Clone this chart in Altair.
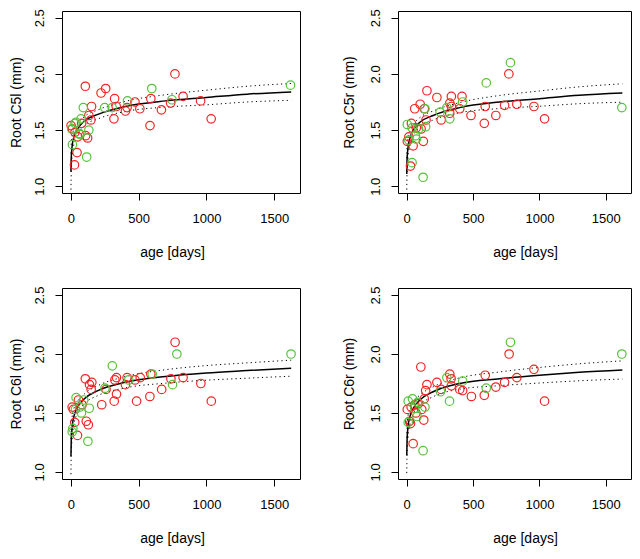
import altair as alt
import pandas as pd

FONT = "Liberation Sans"
RED = "#F22424"
GREEN = "#55C23A"

AGE_TICKS = [0, 500, 1000, 1500]
Y_TICKS = [1.0, 1.5, 2.0, 2.5]
CURVE_AGE = [1, 3, 10, 25, 50, 100, 200, 400, 700, 1000, 1300, 1625]

# ---- Root C5l ----
C5L_RED_AGE = [2, 12, 27, 31, 46, 51, 80, 107, 109, 124, 133, 148, 153, 223, 257, 318, 323, 335, 403, 415, 473, 509, 584, 590, 668, 736, 768, 828, 957, 1035]
C5L_RED_VAL = [1.54, 1.51, 1.19, 1.48, 1.30, 1.44, 1.56, 1.89, 1.45, 1.43, 1.63, 1.59, 1.71, 1.83, 1.87, 1.60, 1.78, 1.71, 1.67, 1.70, 1.75, 1.69, 1.54, 1.78, 1.68, 1.74, 2.00, 1.80, 1.76, 1.60]
C5L_GREEN_AGE = [7, 12, 31, 38, 63, 68, 75, 92, 117, 133, 250, 305, 418, 597, 746, 1620]
C5L_GREEN_VAL = [1.51, 1.37, 1.56, 1.57, 1.47, 1.46, 1.60, 1.70, 1.26, 1.50, 1.70, 1.70, 1.76, 1.87, 1.77, 1.90]
C5L_FIT = [1.13, 1.25, 1.36, 1.45, 1.51, 1.58, 1.64, 1.71, 1.76, 1.79, 1.82, 1.84]
C5L_UP = [1.29, 1.38, 1.45, 1.515, 1.56, 1.62, 1.68, 1.755, 1.815, 1.855, 1.89, 1.915]
C5L_LO = [0.97, 1.12, 1.27, 1.385, 1.46, 1.54, 1.60, 1.665, 1.705, 1.725, 1.75, 1.765]

# ---- Root C5r ----
C5R_RED_AGE = [5, 17, 29, 36, 49, 61, 73, 102, 109, 126, 133, 146, 153, 228, 260, 325, 325, 337, 337, 400, 417, 485, 585, 592, 672, 738, 770, 830, 959, 1039]
C5R_RED_VAL = [1.40, 1.44, 1.18, 1.56, 1.36, 1.69, 1.52, 1.73, 1.51, 1.40, 1.69, 1.59, 1.85, 1.79, 1.59, 1.65, 1.74, 1.80, 1.71, 1.69, 1.80, 1.63, 1.56, 1.71, 1.63, 1.72, 2.00, 1.73, 1.71, 1.60]
C5R_GREEN_AGE = [5, 17, 41, 41, 66, 73, 90, 124, 138, 143, 252, 303, 325, 422, 600, 782, 1621]
C5R_GREEN_VAL = [1.55, 1.41, 1.21, 1.52, 1.45, 1.42, 1.51, 1.08, 1.69, 1.53, 1.66, 1.70, 1.60, 1.75, 1.92, 2.10, 1.70]
C5R_FIT = [1.11, 1.23, 1.34, 1.43, 1.50, 1.57, 1.63, 1.70, 1.75, 1.78, 1.81, 1.83]
C5R_UP = [1.25, 1.35, 1.43, 1.495, 1.55, 1.612, 1.67, 1.745, 1.808, 1.848, 1.885, 1.912]
C5R_LO = [0.97, 1.11, 1.25, 1.365, 1.45, 1.528, 1.59, 1.655, 1.692, 1.712, 1.735, 1.748]

# ---- Root C6l ----
C6L_RED_AGE = [10, 19, 29, 49, 56, 83, 107, 114, 129, 138, 150, 155, 228, 260, 320, 325, 337, 337, 403, 415, 473, 485, 512, 583, 590, 670, 738, 769, 828, 959, 1036]
C6L_RED_VAL = [1.55, 1.53, 1.42, 1.31, 1.61, 1.57, 1.79, 1.43, 1.40, 1.74, 1.70, 1.76, 1.57, 1.70, 1.60, 1.78, 1.66, 1.80, 1.74, 1.80, 1.78, 1.60, 1.80, 1.64, 1.83, 1.70, 1.79, 2.10, 1.80, 1.75, 1.60]
C6L_GREEN_AGE = [10, 15, 34, 39, 66, 78, 95, 126, 136, 252, 306, 427, 600, 750, 782, 1624]
C6L_GREEN_VAL = [1.34, 1.37, 1.53, 1.63, 1.55, 1.50, 1.61, 1.26, 1.54, 1.71, 1.90, 1.78, 1.83, 1.74, 2.00, 2.00]
C6L_FIT = [1.13, 1.26, 1.38, 1.48, 1.55, 1.62, 1.69, 1.76, 1.81, 1.84, 1.86, 1.88]
C6L_UP = [1.28, 1.38, 1.47, 1.545, 1.60, 1.662, 1.732, 1.808, 1.867, 1.902, 1.925, 1.948]
C6L_LO = [0.98, 1.14, 1.29, 1.415, 1.50, 1.578, 1.648, 1.712, 1.753, 1.778, 1.795, 1.812]

# ---- Root C6r ----
C6R_RED_AGE = [5, 22, 29, 34, 49, 61, 70, 90, 107, 114, 129, 133, 143, 153, 228, 260, 325, 335, 337, 400, 422, 488, 585, 592, 672, 738, 772, 830, 959, 1039]
C6R_RED_VAL = [1.53, 1.43, 1.41, 1.55, 1.24, 1.57, 1.50, 1.58, 1.89, 1.53, 1.44, 1.62, 1.69, 1.74, 1.76, 1.70, 1.83, 1.79, 1.73, 1.70, 1.69, 1.64, 1.65, 1.82, 1.72, 1.76, 2.00, 1.80, 1.87, 1.60]
C6R_GREEN_AGE = [12, 12, 44, 61, 78, 83, 124, 138, 255, 303, 323, 422, 600, 782, 1621]
C6R_GREEN_VAL = [1.60, 1.42, 1.62, 1.54, 1.47, 1.59, 1.18, 1.55, 1.68, 1.80, 1.60, 1.77, 1.71, 2.10, 2.00]
C6R_FIT = [1.14, 1.26, 1.38, 1.47, 1.54, 1.61, 1.68, 1.75, 1.79, 1.82, 1.845, 1.865]
C6R_UP = [1.29, 1.38, 1.47, 1.535, 1.59, 1.652, 1.722, 1.798, 1.848, 1.886, 1.917, 1.942]
C6R_LO = [0.99, 1.14, 1.29, 1.405, 1.49, 1.568, 1.638, 1.702, 1.732, 1.754, 1.773, 1.788]


def panel(ytitle, red_age, red_val, green_age, green_val, fit, up, lo,
          width, height, title_x, ytitle_pad):
    pts = pd.DataFrame({
        "age": list(red_age) + list(green_age),
        "value": list(red_val) + list(green_val),
        "grp": ["red"] * len(red_age) + ["green"] * len(green_age),
    })
    curve = pd.DataFrame({"age": CURVE_AGE, "fit": fit, "up": up, "lo": lo})
    xs = alt.Scale(domain=[-65, 1690], nice=False, zero=False)
    ys = alt.Scale(domain=[0.94, 2.56], nice=False, zero=False)
    xax = alt.Axis(values=AGE_TICKS, format="d", title="age [days]", grid=False, domain=False,
                   tickSize=7, tickColor="black", labelFontSize=13, labelFont=FONT,
                   labelColor="black", labelPadding=12, labelFlush=False,
                   titleFontSize=14, titleFont=FONT, titleFontWeight="normal",
                   titleColor="black", minExtent=30, maxExtent=30, titlePadding=22,
                   titleX=title_x)
    yax = alt.Axis(values=Y_TICKS, format=".1f", title=ytitle, grid=False, domain=False,
                   tickSize=7, tickColor="black", labelFontSize=13, labelFont=FONT,
                   labelColor="black", labelAngle=-90, labelAlign="center",
                   labelBaseline="bottom", labelPadding=9, labelFlush=False,
                   titleFontSize=14, titleFont=FONT, titleFontWeight="normal",
                   titleColor="black", minExtent=35, maxExtent=35, titlePadding=ytitle_pad)
    base_c = alt.Chart(curve)
    lo_line = base_c.mark_line(color="black", strokeWidth=1, strokeDash=[1.2, 3.2],
                               interpolate="monotone").encode(
        x=alt.X("age:Q", scale=xs, axis=xax), y=alt.Y("lo:Q", scale=ys, axis=yax))
    up_line = base_c.mark_line(color="black", strokeWidth=1, strokeDash=[1.2, 3.2],
                               interpolate="monotone").encode(
        x=alt.X("age:Q", scale=xs), y=alt.Y("up:Q", scale=ys))
    fit_line = base_c.mark_line(color="black", strokeWidth=1.5,
                                interpolate="monotone").encode(
        x=alt.X("age:Q", scale=xs), y=alt.Y("fit:Q", scale=ys))
    points = alt.Chart(pts).mark_point(shape="circle", filled=False, size=72,
                                       strokeWidth=1.2, opacity=1).encode(
        x=alt.X("age:Q", scale=xs),
        y=alt.Y("value:Q", scale=ys),
        color=alt.Color("grp:N", scale=alt.Scale(domain=["red", "green"], range=[RED, GREEN]),
                        legend=None),
    )
    return alt.layer(lo_line, up_line, fit_line, points).properties(width=width, height=height)


p1 = panel("Root C5l (mm)", C5L_RED_AGE, C5L_RED_VAL, C5L_GREEN_AGE, C5L_GREEN_VAL,
           C5L_FIT, C5L_UP, C5L_LO, 238, 182, 110, 4)
p2 = panel("Root C5r (mm)", C5R_RED_AGE, C5R_RED_VAL, C5R_GREEN_AGE, C5R_GREEN_VAL,
           C5R_FIT, C5R_UP, C5R_LO, 233, 182, 127, 7)
p3 = panel("Root C6l (mm)", C6L_RED_AGE, C6L_RED_VAL, C6L_GREEN_AGE, C6L_GREEN_VAL,
           C6L_FIT, C6L_UP, C6L_LO, 238, 191, 110, 4)
p4 = panel("Root C6r (mm)", C6R_RED_AGE, C6R_RED_VAL, C6R_GREEN_AGE, C6R_GREEN_VAL,
           C6R_FIT, C6R_UP, C6R_LO, 233, 191, 127, 7)

chart = alt.concat(p1, p2, p3, p4, columns=2, spacing={"row": 95, "column": 98},
                   bounds="flush").properties(
    padding={"left": 0, "top": 0, "right": 0, "bottom": 0},
    background="white",
).configure_view(stroke="black", strokeWidth=1)

chart.save("out.html", embed_options={"renderer": "svg", "actions": False})
